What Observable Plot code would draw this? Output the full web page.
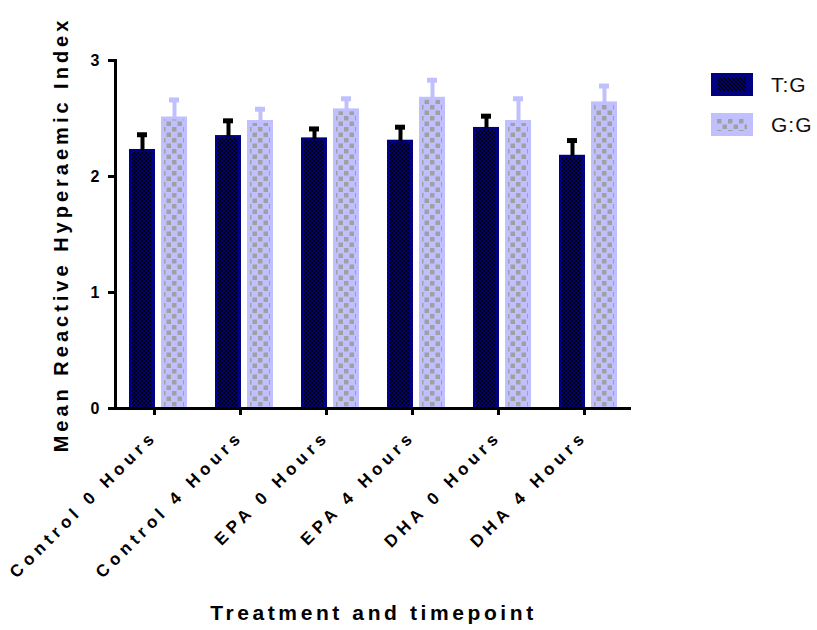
<!DOCTYPE html>
<html><head><meta charset="utf-8">
<script src="https://cdn.jsdelivr.net/npm/d3@7"></script>
<script src="https://cdn.jsdelivr.net/npm/@observablehq/plot@0.6"></script>
<style>
body{margin:0;background:#fff;}
#wrap{position:relative;width:817px;height:630px;font-family:"Liberation Sans",Arial,sans-serif;}
#legend{position:absolute;left:711px;top:73px;}
.li{position:absolute;left:0;width:140px;height:24px;}
.li svg{position:absolute;left:0;top:0;}
.li span{position:absolute;left:60px;top:0px;font-size:21px;line-height:24px;color:#111;letter-spacing:1px;}
g[aria-label="fx-axis tick label"] text{letter-spacing:4.8px !important;font-size:17px !important;font-weight:bold !important;}
g[aria-label="y-axis tick label"] text{font-size:16px !important;font-weight:bold !important;}
g[aria-label="y-axis label"] text{letter-spacing:4px !important;font-size:20px !important;font-weight:bold !important;}
g[aria-label="fx-axis label"] text{letter-spacing:3.6px !important;font-size:21px !important;font-weight:bold !important;}
</style></head><body>
<svg width="0" height="0" style="position:absolute">
<defs>
<pattern id="tg" patternUnits="userSpaceOnUse" width="4" height="4">
<rect width="4" height="4" fill="#000080"/><rect width="2" height="2" fill="#000"/><rect x="2" y="2" width="2" height="2" fill="#000"/>
</pattern>
<pattern id="gg" patternUnits="userSpaceOnUse" width="11" height="11">
<rect width="11" height="11" fill="#c0c0ff"/><rect x="0.5" y="0.5" width="4.5" height="4.5" fill="#a0a0a0"/><rect x="6" y="6" width="4.5" height="4.5" fill="#a0a0a0"/>
</pattern>
</defs></svg>
<div id="wrap"><div id="chart"></div><div id="legend"></div></div>
<script>
const categories = ["Control 0 Hours","Control 4 Hours","EPA 0 Hours","EPA 4 Hours","DHA 0 Hours","DHA 4 Hours"];
const seriesNames = ["T:G","G:G"];
const tgMean = [2.22, 2.34, 2.32, 2.30, 2.41, 2.17];
const tgErr  = [0.14, 0.14, 0.09, 0.125, 0.11, 0.14];
const ggMean = [2.50, 2.47, 2.57, 2.67, 2.47, 2.63];
const ggErr  = [0.16, 0.11, 0.10, 0.16, 0.20, 0.15];
const yTicks = [0, 1, 2, 3];

const tg = categories.map((c,i)=>({cat:c, series:"T:G", value:tgMean[i], top:tgMean[i]+tgErr[i]}));
const gg = categories.map((c,i)=>({cat:c, series:"G:G", value:ggMean[i], top:ggMean[i]+ggErr[i]}));

const plot = Plot.plot({
  width: 817, height: 630,
  marginLeft: 114, marginRight: 185, marginTop: 60, marginBottom: 222,
  style: {fontFamily: "'Liberation Sans', Arial, sans-serif", background: "white", color: "#000", overflow: "visible"},
  fx: {domain: categories, padding: 0, label: "Treatment and timepoint"},
  x: {domain: seriesNames, paddingInner: 0.18, paddingOuter: 0.41, axis: null},
  y: {domain: [0, 3]},
  marks: [
    Plot.barY(tg, {fx: "cat", x: "series", y: "value", fill: "url(#tg)", stroke: "#000080", strokeWidth: 3, insetLeft: 1.5, insetRight: 1.5}),
    Plot.barY(gg, {fx: "cat", x: "series", y: "value", fill: "url(#gg)", stroke: "#c0c0ff", strokeWidth: 3, insetLeft: 1.5, insetRight: 1.5}),
    Plot.ruleX(tg, {fx: "cat", x: "series", y1: "value", y2: "top", stroke: "#000", strokeWidth: 4}),
    Plot.tickY(tg, {fx: "cat", x: "series", y: "top", stroke: "#000", strokeWidth: 5, insetLeft: 8, insetRight: 8}),
    Plot.ruleX(gg, {fx: "cat", x: "series", y1: "value", y2: "top", stroke: "#c0c0ff", strokeWidth: 4}),
    Plot.tickY(gg, {fx: "cat", x: "series", y: "top", stroke: "#c0c0ff", strokeWidth: 5, insetLeft: 8, insetRight: 8}),
    Plot.ruleY([0], {stroke: "#000", strokeWidth: 3}),
    Plot.frame({anchor: "left", facetAnchor: "left", stroke: "#000", strokeWidth: 3}),
    Plot.axisY({ticks: yTicks, tickFormat: d => d, tickSize: 7, tickPadding: 9, strokeWidth: 3,
      label: "Mean Reactive Hyperaemic Index", labelAnchor: "center", labelOffset: 62, labelArrow: "none"}),
    Plot.axisFx({anchor: "bottom", tickRotate: -45, tickSize: 7, tickPadding: 18, dx: -4, strokeWidth: 3,
      label: "Treatment and timepoint", labelAnchor: "center", labelOffset: 211})
  ]
});
document.getElementById("chart").appendChild(plot);

const legend = document.getElementById("legend");
const swatches = {"T:G": ["#000080", "url(#tg)", 5, 5], "G:G": ["#c0c0ff", "url(#gg)", 4, 5]};
seriesNames.forEach((s, i) => {
  const [bg, pat, ix, iy] = swatches[s];
  const div = document.createElement("div");
  div.className = "li"; div.style.top = (i * 40) + "px";
  div.innerHTML = `<svg width="42" height="23"><rect width="42" height="23" fill="${bg}"/><rect x="${ix+2}" y="${iy}" width="${42-2*ix-4}" height="${23-2*iy}" fill="${pat}"/></svg><span>${s}</span>`;
  legend.appendChild(div);
});
</script>
</body></html>
